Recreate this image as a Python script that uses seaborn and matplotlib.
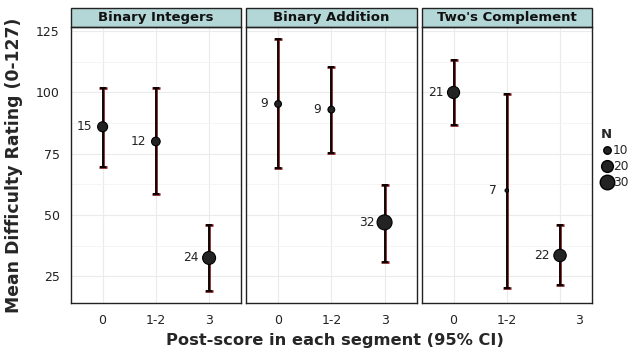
import pandas as pd
import numpy as np
import matplotlib
matplotlib.use("Agg")
import matplotlib.pyplot as plt
import seaborn as sns
from matplotlib.patches import Rectangle
from matplotlib.lines import Line2D

# Data
topics = ["Binary Integers", "Binary Addition", "Two's Complement"]
scores = ["0", "1-2", "3"]
means = [[86, 80, 32.5], [95.3, 93, 47], [100, 60, 33.5]]
ci_low = [[69.5, 58.5, 19], [69, 75.5, 30.8], [86.7, 20.4, 21.3]]
ci_high = [[102, 102, 46], [121.6, 110.2, 62.4], [113.1, 99.5, 46]]
counts = [[15, 12, 24], [9, 9, 32], [21, 7, 22]]
legend_n = [10, 20, 30]

rows = []
for t, topic in enumerate(topics):
    for s, score in enumerate(scores):
        rows.append({"topic": topic, "score": score, "mean": means[t][s],
                     "lo": ci_low[t][s], "hi": ci_high[t][s], "N": counts[t][s]})
df = pd.DataFrame(rows)
df["xpos"] = df["score"].map({k: i for i, k in enumerate(scores)})

sns.set_theme(style="white")
plt.rcParams["font.family"] = ["DejaVu Sans"]

n_lo, n_hi = 7, 32


def size_of(n):
    # ggplot-like area scale: diameter grows with sqrt of rescaled N
    d_px = 3.5 + 11.5 * np.sqrt((n - n_lo) / (n_hi - n_lo))
    return (d_px * 0.72) ** 2


size_map = {n: size_of(n) for n in sorted(set(df["N"]))}

fig, axes = plt.subplots(1, 3, figsize=(6.39, 3.52), dpi=100, sharey=True)
fig.subplots_adjust(left=0.1106, right=0.9264, bottom=0.1384, top=0.924, wspace=0.03)

for ax, topic in zip(axes, topics):
    sub = df[df["topic"] == topic]
    ax.set_axisbelow(True)
    yerr = [sub["mean"] - sub["lo"], sub["hi"] - sub["mean"]]
    ax.errorbar(sub["xpos"], sub["mean"], yerr=yerr, fmt="none", ecolor="#7a1414",
                elinewidth=1.9, capsize=2.6, capthick=1.9, zorder=2)
    ax.errorbar(sub["xpos"], sub["mean"], yerr=yerr, fmt="none", ecolor="black",
                elinewidth=1.2, capsize=2.5, capthick=1.3, zorder=3)
    sns.scatterplot(data=sub, x="xpos", y="mean", size="N", sizes=size_map,
                    color="#232323", edgecolor="black", linewidth=0.8,
                    legend=False, ax=ax, zorder=4)
    for _, r in sub.iterrows():
        ax.text(r["xpos"] - 0.19, r["mean"], str(r["N"]), ha="right", va="center",
                fontsize=8.8, color="#222222")

    ax.set_xlim(-0.6, 2.6)
    ax.set_ylim(14, 126.8)
    ax.set_xticks(range(len(scores)))
    ax.set_yticks([25, 50, 75, 100, 125])
    ax.set_yticks([37.5, 62.5, 87.5, 112.5], minor=True)
    ax.grid(True, which="major", color="#ebebeb", linewidth=0.8)
    ax.grid(True, which="minor", axis="y", color="#f2f2f2", linewidth=0.5)
    ax.set_xlabel("")
    ax.set_ylabel("")
    ax.tick_params(axis="both", which="major", labelsize=9, length=3, color="#444444",
                   labelcolor="#222222", pad=5)
    ax.tick_params(axis="y", which="minor", length=0)
    for sp in ax.spines.values():
        sp.set_color("#222222")
        sp.set_linewidth(1.0)

    strip = Rectangle((0, 1.0), 1, 0.0666, transform=ax.transAxes, clip_on=False,
                      facecolor="#b3d6d7", edgecolor="#222222", linewidth=1.0)
    ax.add_patch(strip)
    ax.text(0.5, 1.0333, topic, transform=ax.transAxes, ha="center", va="center",
            fontsize=9.5, fontweight="bold", color="#111111")

axes[0].set_xticklabels(scores)
axes[1].set_xticklabels(scores)
axes[2].set_xticklabels(["0", "1-2", " " * 10 + "3"])

fig.supylabel("Mean Difficulty Rating (0-127)", x=0.008, y=0.53, fontsize=12.4, fontweight="bold")
fig.supxlabel("Post-score in each segment (95% CI)", x=0.524, y=0.012, fontsize=11.7, fontweight="bold")

handles = [Line2D([], [], linestyle="none", marker="o", markersize=np.sqrt(size_of(n)),
                  markerfacecolor="#232323", markeredgecolor="black") for n in legend_n]
leg = fig.legend(handles, [str(n) for n in legend_n], title="N", loc="center left",
                 bbox_to_anchor=(0.932, 0.55), frameon=False, fontsize=8.8,
                 handletextpad=0.0, labelspacing=0.25, handlelength=1.0, borderaxespad=0)
leg.get_title().set_fontweight("bold")
leg.get_title().set_fontsize(9.5)
leg._legend_box.align = "left"

fig.savefig("out.png", dpi=100)
